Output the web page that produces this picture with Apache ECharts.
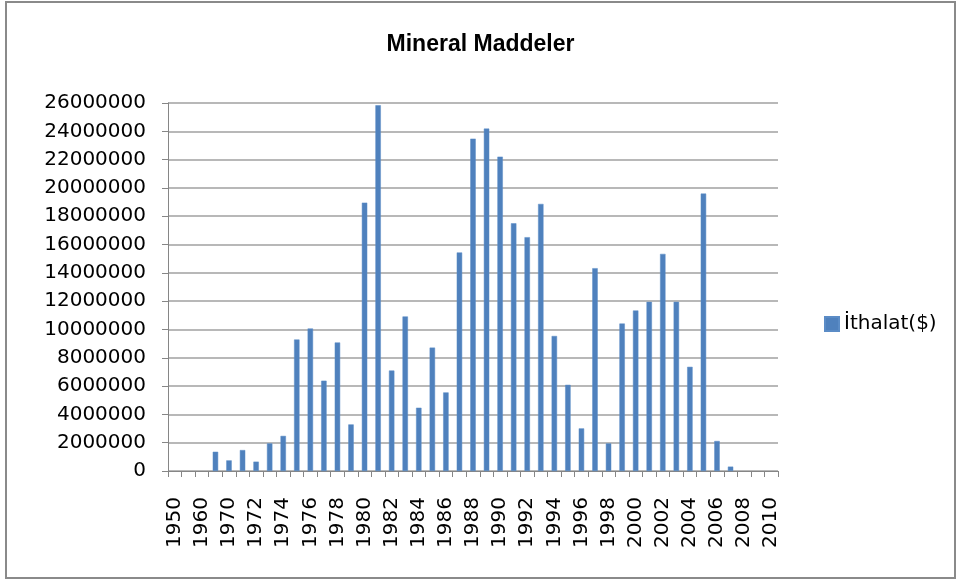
<!DOCTYPE html>
<html>
<head>
<meta charset="utf-8">
<title>Mineral Maddeler</title>
<script src="https://cdn.jsdelivr.net/npm/echarts@6/dist/echarts.min.js"></script>
<style>
html, body { margin: 0; padding: 0; background: #fff; }
#main { position: absolute; left: 0; top: 0; width: 961px; height: 581px; }
.frame { position: absolute; left: 5px; top: 1px; width: 947px; height: 574px; border: 2px solid #8a8a8a; pointer-events: none; }
</style>
</head>
<body>
<div id="main"></div>
<div class="frame"></div>
<script>
// yillar (kategori)
var years = ['1950', '1955', '1960', '1965', '1970', '1971', '1972', '1973', '1974', '1975',
	'1976', '1977', '1978', '1979', '1980', '1981', '1982', '1983', '1984', '1985',
	'1986', '1987', '1988', '1989', '1990', '1991', '1992', '1993', '1994', '1995',
	'1996', '1997', '1998', '1999', '2000', '2001', '2002', '2003', '2004', '2005',
	'2006', '2007', '2008', '2009', '2010'];

// ithalat degerleri ($)
var ithalat = [null, null, null, 1360000, 750000, 1480000, 660000, 1950000, 2480000, 9290000,
	10070000, 6380000, 9080000, 3290000, 18960000, 25840000, 7100000, 10920000, 4470000, 8720000,
	5550000, 15440000, 23480000, 24190000, 22210000, 17500000, 16520000, 18870000, 9540000, 6090000,
	3010000, 14330000, 1950000, 10420000, 11340000, 11950000, 15340000, 11950000, 7360000, 19600000,
	2120000, 310000, null, null, null];

var yMin = 0;
var yMax = 26000000;
var yStep = 2000000;

var font = 'DejaVu Sans';

var myChart = echarts.init(document.getElementById('main'));
myChart.setOption({
	animation: false,
	title: {
		text: 'Mineral Maddeler',
		left: 'center',
		top: 28,
		textStyle: {
			fontFamily: 'Liberation Sans',
			fontSize: 23,
			fontWeight: 'bold',
			color: '#000'
		}
	},
	legend: {
		orient: 'vertical',
		left: 819,
		top: 309,
		icon: 'rect',
		itemWidth: 14,
		itemHeight: 14,
		itemGap: 8,
		textStyle: {
			fontFamily: font,
			fontSize: 20,
			color: '#000'
		},
		data: ['İthalat($)']
	},
	grid: {
		left: 168,
		right: 183,
		top: 103,
		bottom: 110
	},
	xAxis: [{
		type: 'category',
		data: years,
		boundaryGap: true,
		axisLine: {
			lineStyle: {
				color: '#868686',
				width: 1
			}
		},
		axisTick: {
			show: true,
			interval: 0,
			length: 6,
			lineStyle: {
				color: '#868686'
			}
		},
		axisLabel: {
			interval: 1,
			rotate: 90,
			margin: 26,
			fontFamily: font,
			fontSize: 20,
			color: '#000'
		},
		splitLine: {
			show: false
		}
	}],
	yAxis: [{
		type: 'value',
		min: yMin,
		max: yMax,
		interval: yStep,
		axisLine: {
			show: true,
			lineStyle: {
				color: '#868686',
				width: 1
			}
		},
		axisTick: {
			show: true,
			length: 6,
			lineStyle: {
				color: '#868686'
			}
		},
		axisLabel: {
			margin: 22,
			fontFamily: font,
			fontSize: 20,
			color: '#000',
			formatter: function(v) {
				return String(v);
			}
		},
		splitLine: {
			show: true,
			lineStyle: {
				color: '#a0a0a0',
				width: 1.5
			}
		}
	}],
	series: [{
		name: 'İthalat($)',
		type: 'bar',
		data: ithalat,
		barWidth: '40%',
		itemStyle: {
			color: '#4f81bd',
			borderColor: '#5b8cc6',
			borderWidth: 0.5
		}
	}]
});
</script>
</body>
</html>
